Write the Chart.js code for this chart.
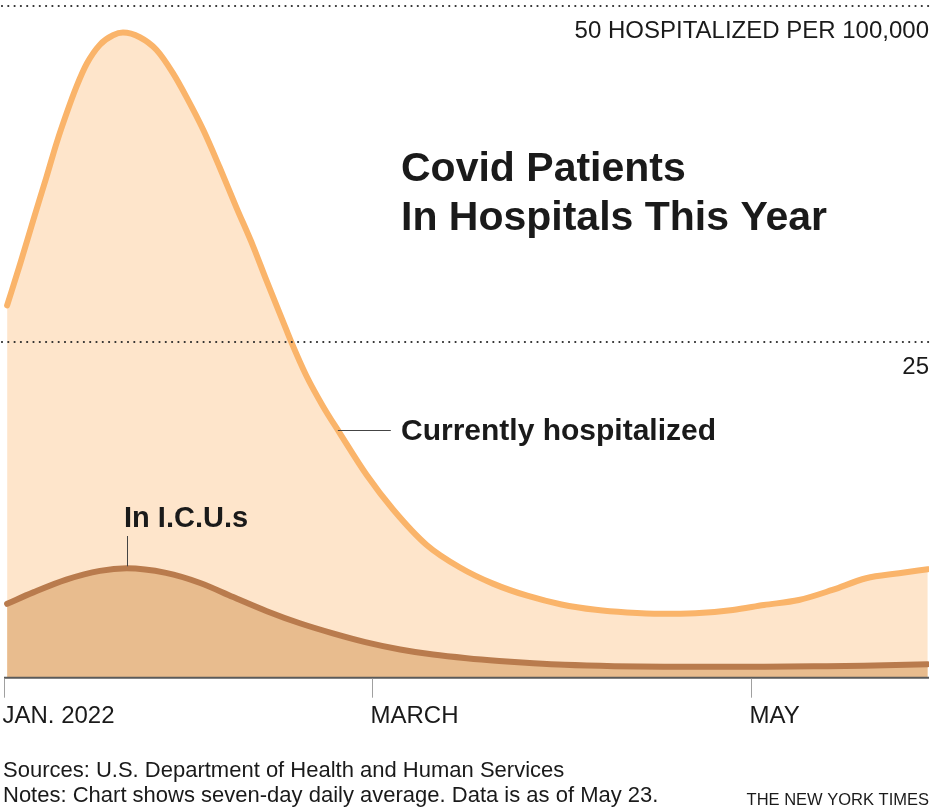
<!DOCTYPE html>
<html lang="en">

<head>
    <meta charset="UTF-8">
    <title>Covid Patients In Hospitals This Year</title>
    <script src="https://cdn.jsdelivr.net/npm/chart.js"></script>
    <style>
        body {
            margin: 0;
            background: #ffffff;
        }

        canvas {
            display: block;
        }
    </style>
</head>

<body>
    <canvas id="hospChart" width="933" height="809"></canvas>

    <script>
        // days since Jan 1 2022 -> hospitalized per 100,000 (seven-day average)
        const hospDays = [0.5, 2.6, 4.7, 6.85, 8.45, 10.05, 11.65, 13.3, 15.4, 17.5, 19.1, 21.8, 24.5, 27.1, 29.3, 32, 34.6, 37.3, 40, 42.1, 44.8, 46.1, 48.5, 51.2, 53.9, 58.2, 62.5, 67.8, 73.2, 78.5, 84, 89.5, 95, 100, 105.5, 111, 117, 122, 127.6, 133, 138.4, 143.7, 148.3];
        const hospValues = [27.7, 30.8, 34.05, 37.3, 39.8, 42.0, 44.0, 45.7, 47.1, 47.8, 48.0, 47.65, 46.7, 45.0, 43.2, 40.75, 38.0, 35.0, 32.1, 29.6, 26.5, 25.0, 22.5, 20.2, 18.2, 15.1, 12.5, 9.9, 8.2, 7.0, 6.1, 5.45, 5.05, 4.85, 4.75, 4.8, 5.04, 5.41, 5.78, 6.53, 7.4, 7.77, 8.07];

        const icuDays = [0.5, 4.7, 10, 15.4, 19.7, 26, 31.5, 36.8, 42.2, 47.5, 52.8, 58, 63.6, 68.9, 74.3, 79.5, 85, 90, 98, 106, 114, 122, 130, 138, 148.3];
        const icuValues = [5.5, 6.35, 7.3, 7.95, 8.14, 7.8, 7.05, 6.0, 4.95, 4.05, 3.3, 2.65, 2.1, 1.72, 1.45, 1.25, 1.08, 0.96, 0.86, 0.82, 0.81, 0.82, 0.85, 0.89, 1.0];

        const monthTicks = [0, 59, 120];
        const monthLabels = ['JAN. 2022', 'MARCH', 'MAY'];

        const gridValues = [50, 25];
        const gridLabels = ['50 HOSPITALIZED PER 100,000', '25'];

        const font = '"Liberation Sans", Arial, Helvetica, sans-serif';
        const ink = '#1a1a1a';

        const toPoints = (days, vals) => days.map((d, i) => ({ x: d, y: vals[i] }));

        // dotted gridlines, axis, month ticks and all the text
        const decorations = {
            id: 'decorations',
            afterDatasetsDraw(chart) {
                const ctx = chart.ctx;
                const xs = chart.scales.x;
                const ys = chart.scales.y;
                const area = chart.chartArea;
                ctx.save();

                // dotted lines
                ctx.strokeStyle = '#2a2a2a';
                ctx.lineWidth = 2.2;
                ctx.lineCap = 'round';
                ctx.setLineDash([0, 6.3]);
                gridValues.forEach(v => {
                    const y = Math.round(ys.getPixelForValue(v));
                    ctx.beginPath();
                    ctx.moveTo(2, y);
                    ctx.lineTo(area.right, y);
                    ctx.stroke();
                });
                ctx.setLineDash([]);
                ctx.lineCap = 'butt';

                ctx.fillStyle = ink;
                ctx.textAlign = 'right';
                ctx.textBaseline = 'alphabetic';
                ctx.font = '24px ' + font;
                gridValues.forEach((v, i) => {
                    ctx.fillText(gridLabels[i], area.right, ys.getPixelForValue(v) + 32);
                });

                // baseline
                const y0 = ys.getPixelForValue(0);
                ctx.strokeStyle = '#5a5a5a';
                ctx.lineWidth = 2;
                ctx.beginPath();
                ctx.moveTo(area.left, y0);
                ctx.lineTo(area.right, y0);
                ctx.stroke();

                // month ticks + labels
                ctx.strokeStyle = '#a0a0a0';
                ctx.lineWidth = 1;
                ctx.textAlign = 'left';
                ctx.font = '24px ' + font;
                monthTicks.forEach((d, i) => {
                    const x = Math.round(xs.getPixelForValue(d)) + 0.5;
                    ctx.beginPath();
                    ctx.moveTo(x, y0 + 1);
                    ctx.lineTo(x, y0 + 20);
                    ctx.stroke();
                    ctx.fillText(monthLabels[i], x - 2, y0 + 45);
                });

                // title
                ctx.font = 'bold 41px ' + font;
                ctx.fillText('Covid Patients', 401, 181);
                ctx.fillText('In Hospitals This Year', 401, 230);

                // series labels with leaders
                ctx.strokeStyle = '#444';
                ctx.lineWidth = 1;
                const ly = Math.round(ys.getPixelForValue(18.43)) + 0.5;
                ctx.beginPath();
                ctx.moveTo(xs.getPixelForValue(53.6), ly);
                ctx.lineTo(xs.getPixelForValue(62.1), ly);
                ctx.stroke();
                ctx.font = 'bold 30px ' + font;
                ctx.fillText('Currently hospitalized', 401, 440);

                const lx = Math.round(xs.getPixelForValue(19.7)) + 0.5;
                ctx.beginPath();
                ctx.moveTo(lx, ys.getPixelForValue(8.14) - 2);
                ctx.lineTo(lx, 536);
                ctx.stroke();
                ctx.font = 'bold 29px ' + font;
                ctx.fillText('In I.C.U.s', 124, 527);

                // notes
                ctx.font = '22px ' + font;
                ctx.fillText('Sources: U.S. Department of Health and Human Services', 3, 777);
                ctx.fillText('Notes: Chart shows seven-day daily average. Data is as of May 23.', 3, 802);
                ctx.textAlign = 'right';
                ctx.font = '16.5px ' + font;
                ctx.fillText('THE NEW YORK TIMES', area.right, 805);

                ctx.restore();
            }
        };

        const ctx = document.getElementById('hospChart').getContext('2d');
        new Chart(ctx, {
            type: 'line',
            data: {
                datasets: [{
                    label: 'In I.C.U.s',
                    data: toPoints(icuDays, icuValues),
                    borderColor: '#b97b4d',
                    backgroundColor: '#e8bc8e',
                    fill: 'origin',
                    borderWidth: 6,
                    borderCapStyle: 'round',
                    borderJoinStyle: 'round',
                    cubicInterpolationMode: 'monotone',
                    pointRadius: 0
                }, {
                    label: 'Currently hospitalized',
                    data: toPoints(hospDays, hospValues),
                    borderColor: '#fab46a',
                    backgroundColor: '#fee5cb',
                    fill: 'origin',
                    borderWidth: 6,
                    borderCapStyle: 'round',
                    borderJoinStyle: 'round',
                    cubicInterpolationMode: 'monotone',
                    pointRadius: 0
                }]
            },
            options: {
                responsive: false,
                animation: false,
                devicePixelRatio: 1,
                layout: {
                    padding: { left: 4, right: 4, top: 5.7, bottom: 131.3 }
                },
                scales: {
                    x: { type: 'linear', min: 0, max: 148.5, display: false },
                    y: { min: 0, max: 50, display: false }
                },
                plugins: {
                    legend: { display: false },
                    tooltip: { enabled: false }
                }
            },
            plugins: [decorations]
        });
    </script>
</body>

</html>
